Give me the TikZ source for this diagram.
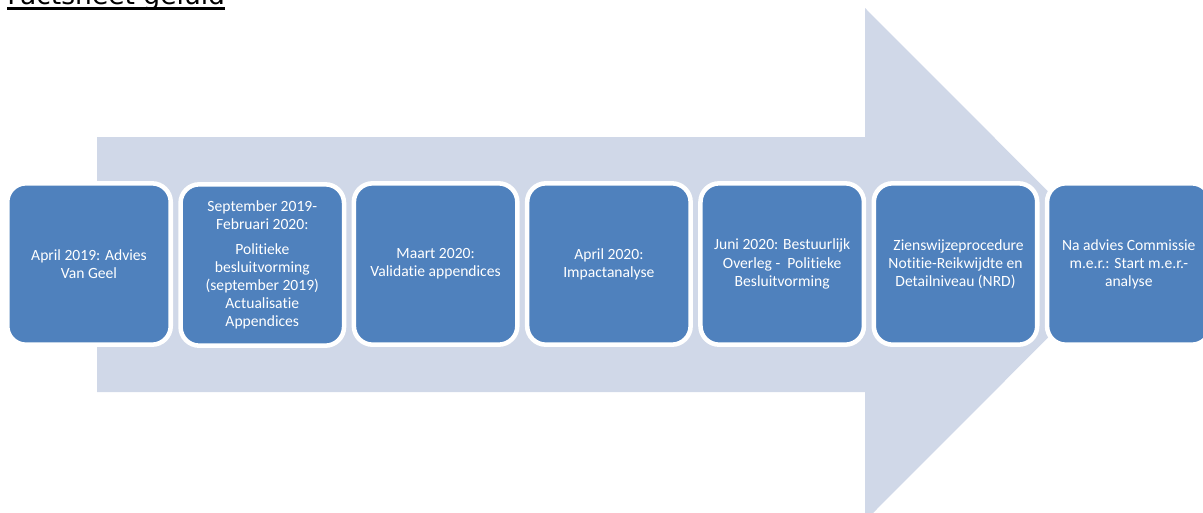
\documentclass[tikz,border=0pt]{standalone}
\usepackage{fontspec}
\setmainfont{Carlito}[Ligatures=NoCommon]
\newfontfamily\titelfont{DejaVu Sans}
\definecolor{pijlkleur}{HTML}{D0D8E8}
\definecolor{stapkleur}{HTML}{4F81BD}

\begin{document}
\begin{tikzpicture}[x=0.75pt,y=-0.75pt]

        \useasboundingbox (0,0) rectangle (1203,512);
        \clip (0,0) rectangle (1203,512);

        % grote pijl op de achtergrond
        \fill[pijlkleur] (97,137) -- (865,137) -- (865,8) -- (1121,264.5)
          -- (865,521) -- (865,392) -- (97,392) -- cycle;

        \node[anchor=base west, inner sep=0pt, font=\titelfont\fontsize{19.9}{22}\selectfont] (titel) at (7,4) {Factsheet geluid};
        \draw[line width=2pt] ([yshift=-3.6pt]titel.base west) -- ([yshift=-3.6pt]titel.base east);

        \begin{scope}[every node/.style={rectangle, rounded corners=14pt, draw=white, line width=3.4pt,
            fill=stapkleur, text=white, minimum width=122.6pt, minimum height=121pt, inner sep=2pt,
            align=center, font=\fontsize{11.7}{13.6}\selectfont}]
          \node (1) at (89,264)    {April 2019: Advies\\Van Geel};
          \node (2) at (262.3,265) {September 2019-\\Februari 2020:\\[4.5pt]Politieke\\besluitvorming\\(september 2019)\\Actualisatie\\Appendices};
          \node (3) at (435.6,264) {Maart 2020:\\Validatie appendices};
          \node (4) at (608.9,264) {April 2020:\\Impactanalyse};
          \node (5) at (782.2,264) {Juni 2020: Bestuurlijk\\Overleg -~ Politieke\\Besluitvorming};
          \node (6) at (955.5,264) {\hspace{0.4em}Zienswijzeprocedure\\Notitie-Reikwijdte en\\Detailniveau (NRD)};
          \node (7) at (1128.8,264) {Na advies Commissie\\m.e.r.: Start m.e.r.-\\analyse};
        \end{scope}

      \end{tikzpicture}
\end{document}
